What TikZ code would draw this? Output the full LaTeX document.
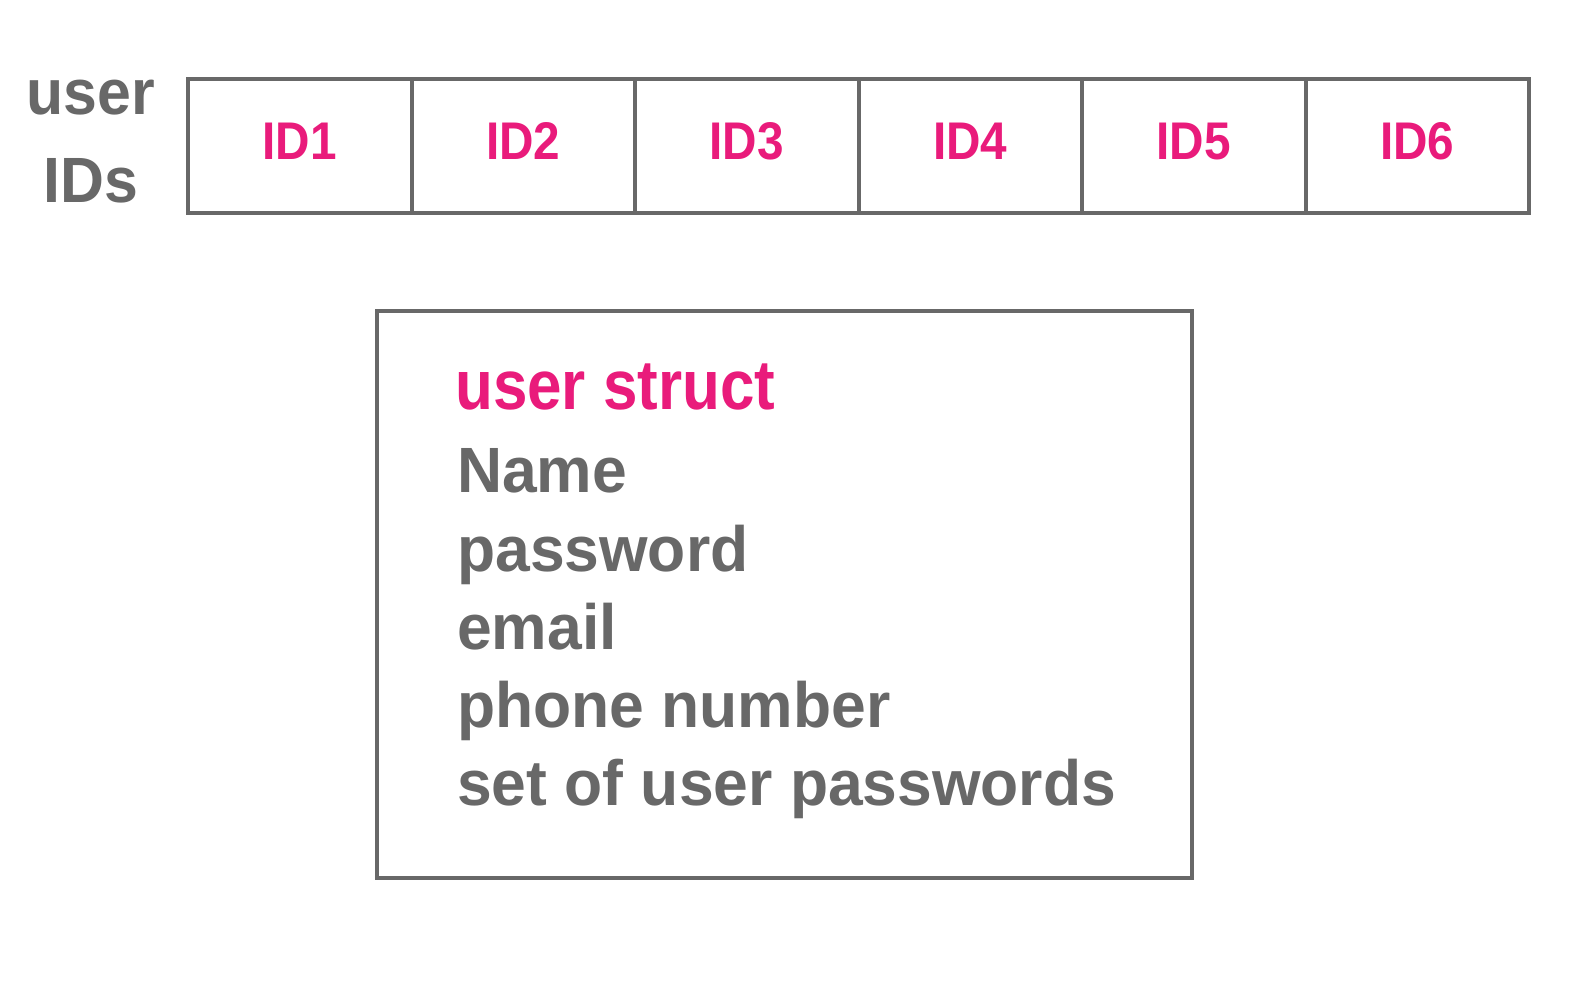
\documentclass[tikz,border=0pt]{standalone}
\usepackage{fontspec}
\setmainfont{Liberation Sans}
\definecolor{txtgray}{RGB}{104,104,104}
\definecolor{idpink}{RGB}{233,27,123}
\begin{document}
\begin{tikzpicture}[x=1pt,y=1pt,
  frame/.style={draw=txtgray,line width=4pt},
  cell/.style={frame,minimum width=223.5pt,minimum height=134pt,inner sep=0pt,outer sep=0pt},
  idlabel/.style={text=idpink,font=\fontsize{53}{60}\selectfont\bfseries,xscale=0.9,anchor=base},
  field/.style={text=txtgray,font=\fontsize{64}{78}\selectfont\bfseries,anchor=base west,inner sep=0pt,xscale=0.975},
  title/.style={text=idpink,font=\fontsize{70}{78}\selectfont\bfseries,anchor=base west,inner sep=0pt,xscale=0.885},
  side/.style={text=txtgray,font=\fontsize{64}{78}\selectfont\bfseries,anchor=base,inner sep=0pt,xscale=0.95}]
\useasboundingbox (0,0) rectangle (1569,999);
\fill[white] (0,0) rectangle (1569,999);
% top row of IDs
\foreach \i in {1,...,6}{
  \node[cell] (c\i) at ({188+223.5*(\i-0.5)},{999-146}) {};
  \node[idlabel] (l\i) at ({188+223.5*(\i-0.5)},{999-160}) {ID\i};
}
\node[side] (u1) at (91,{999-115}) {user};
\node[side] (u2) at (91,{999-203}) {IDs};
% struct box
\node[frame,minimum width=815pt,minimum height=567pt,inner sep=0pt] (box) at ({(377+1192)/2},{999-(311+878)/2}) {};
\node[title] (t0) at (455,{999-410}) {user struct};
\node[field] (f1) at (457,{999-493}) {Name};
\node[field] (f2) at (457,{999-572}) {password};
\node[field] (f3) at (457,{999-650}) {email};
\node[field] (f4) at (457,{999-728}) {phone number};
\node[field] (f5) at (457,{999-806}) {set of user passwords};
\end{tikzpicture}
\end{document}
